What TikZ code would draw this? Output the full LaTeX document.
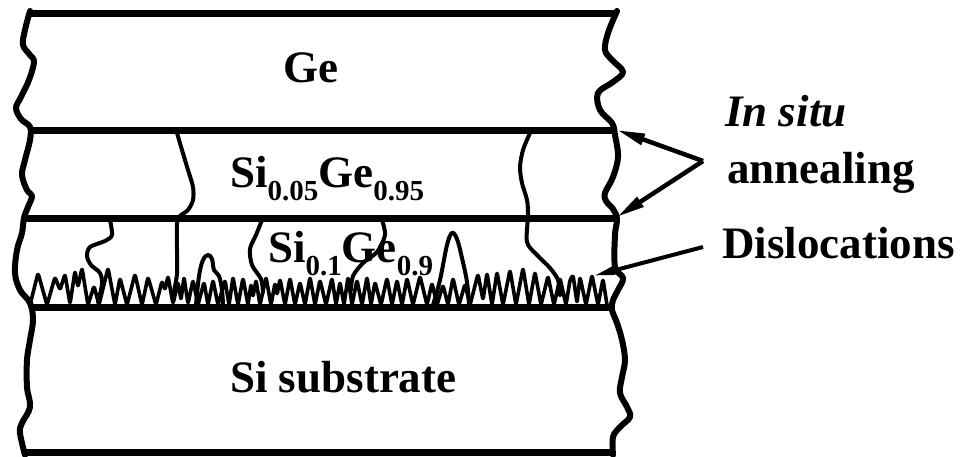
\documentclass[tikz,border=0pt]{standalone}
\usepackage{fontspec}
\setmainfont{Liberation Serif}
\usetikzlibrary{arrows.meta}
% lowered, smaller subscript for alloy fractions
\newcommand\alloysub[1]{\raisebox{-0.3em}{\fontsize{29}{29}\selectfont #1}}
\begin{document}
\begin{tikzpicture}[x=1pt,y=-1pt,
  layerline/.style={line width=7pt},
  wavyedge/.style={line width=6pt,line join=round,line cap=round},
  disl/.style={line width=4pt,line cap=round},
  teeth/.style={line width=3.6pt,rounded corners=2.5pt,line join=round},
  lbl/.style={font=\fontsize{45}{50}\selectfont\bfseries,anchor=base west,inner sep=0pt},
  pointer/.style={line width=4.5pt,-{Triangle[length=28pt,width=11pt]}},
  thinpointer/.style={line width=4pt,-{Triangle[length=22pt,width=8pt]}}]
\useasboundingbox (0,0) rectangle (968,457);

% misfit dislocation network at the Si / SiGe interface
\draw[teeth] (30,305) -- (38,273) -- (47,305) -- (55,277) -- (60,290) -- (65,274) -- (70,304)
  -- (75,271) -- (78,287) -- (82,268) -- (88,305) -- (94,286) -- (99,305) -- (108,268)
  -- (115,305) -- (120,278) -- (127,305) -- (135,274) -- (142,305) -- (148,277) -- (156,305)
  -- (162,281) -- (165,290) -- (168,276) -- (173,304) -- (178,282) -- (181,300) -- (184,277)
  -- (188,304) -- (193,280) -- (198,305) -- (204,282) -- (208,305) -- (213,280) -- (218,305)
  -- (225,280) -- (229,305) -- (233,277) -- (238,305) -- (243,278) -- (248,305) -- (251,284)
  -- (253,297) -- (256,280) -- (260,305) -- (266,277) -- (271,305) -- (275,283) -- (277,295)
  -- (280,279) -- (285,305) -- (290,278) -- (295,305) -- (300,282) -- (305,305) -- (310,277)
  -- (315,305) -- (320,280) -- (326,305) -- (332,278) -- (336,305) -- (340,282) -- (344,305)
  -- (348,277) -- (352,305) -- (357,280) -- (362,305) -- (367,277) -- (371,305) -- (375,282)
  -- (381,305) -- (387,278) -- (392,305) -- (397,280) -- (402,305) -- (407,278) -- (413,305)
  -- (420,276) -- (427,305) -- (432,283) -- (437,305) -- (443,285) -- (448,305) -- (453,278)
  -- (459,305) -- (465,284) -- (470,305) -- (478,274) -- (483,300) -- (487,273) -- (492,305)
  -- (497,272) -- (503,305) -- (510,270) -- (516,305) -- (523,268) -- (529,305) -- (535,272)
  -- (541,305) -- (548,276) -- (554,305) -- (560,278) -- (566,305) -- (570,280) -- (573,275)
  -- (577,303) -- (580,277) -- (586,305) -- (592,275) -- (598,305) -- (603,279) -- (607,305);

% taller loops
\draw[disl] plot[smooth,tension=0.6] coordinates {(196,305) (199,276) (203,260) (208,255) (212,259) (214,270) (219,276) (222,290) (223,305)};
\draw[disl] plot[smooth,tension=0.6] coordinates {(433,305) (440,280) (447,245) (452,233) (457,239) (462,258) (467,282) (469,305)};

% threading dislocations
\draw[disl] plot[smooth,tension=0.5] coordinates {(177,133) (182,150) (188,170) (193,187) (193,200) (188,210) (180,216) (177,224) (177,250) (177,274) (173,296)};
\draw[disl] plot[smooth,tension=0.5] coordinates {(530,133) (523,150) (520,167) (522,183) (527,200) (528,215) (527,242) (537,255) (550,268) (558,280) (560,295)};
\draw[disl] plot[smooth,tension=0.5] coordinates {(110,220) (112,235) (105,241) (90,247) (87,256) (91,265) (100,273) (102,284) (98,302)};
\draw[disl] plot[smooth,tension=0.5] coordinates {(262,220) (256,235) (250,249) (252,265) (261,279) (263,292)};
\draw[disl] plot[smooth,tension=0.5] coordinates {(382,220) (385,235) (377,252) (363,263) (353,276) (351,290)};

% layer boundaries
\draw[layerline] (30,13.5) -- (617,13.5);
\draw[layerline] (30,130.5) -- (615,130.5);
\draw[layerline] (23,218.5) -- (617,218.5);
\draw[layerline] (30,307) -- (613,307);
\draw[layerline] (25,452.5) -- (613,452.5);

% broken-off sides of the stack
\draw[wavyedge] plot[smooth,tension=0.6] coordinates {(30,11) (25,30) (23,45) (30,55) (34,62) (29,80) (21,97) (16,108) (21,119) (30,127) (30,140) (25,160) (22,175) (27,190) (32,196) (28,207) (24,218) (22,233) (17,250) (15,273) (20,290) (30,303) (33,320) (30,340) (27,360) (27,387) (30,407) (22,423) (20,433) (25,455)};
\draw[wavyedge] plot[smooth,tension=0.6] coordinates {(617,11) (608,33) (605,50) (612,60) (623,72) (613,82) (598,93) (600,110) (612,123) (615,135) (618,157) (613,177) (605,193) (606,201) (613,209) (617,219) (615,235) (615,267) (623,278) (618,290) (613,300) (612,310) (617,323) (622,340) (625,360) (622,377) (620,393) (627,407) (630,417) (620,427) (613,437) (613,455)};

% layer names
\node[lbl] (ge) at (283,83) {Ge};
\node[lbl] (sige05) at (230,187) {Si\alloysub{0.05}Ge\alloysub{0.95}};
\node[lbl] (sige10) at (268,262) {Si\alloysub{0.1}Ge\alloysub{0.9}};
\node[lbl] (sub) at (230,392) {Si substrate};

% annotations
\node[lbl,font=\fontsize{45}{50}\selectfont\bfseries\itshape] (insitu) at (725,127) {In situ};
\node[lbl] (anneal) at (727,183) {annealing};
\node[lbl] (disloc) at (722,258) {Dislocations};

\coordinate (hub) at (703,161);
\coordinate (upperif) at (617,130);
\coordinate (lowerif) at (617,217);
\coordinate (dtail) at (703,247);
\coordinate (dtip) at (593,276);
\draw[pointer] (hub) -- (upperif);
\draw[pointer] (hub) -- (lowerif);
\draw[thinpointer] (dtail) -- (dtip);
\end{tikzpicture}
\end{document}
